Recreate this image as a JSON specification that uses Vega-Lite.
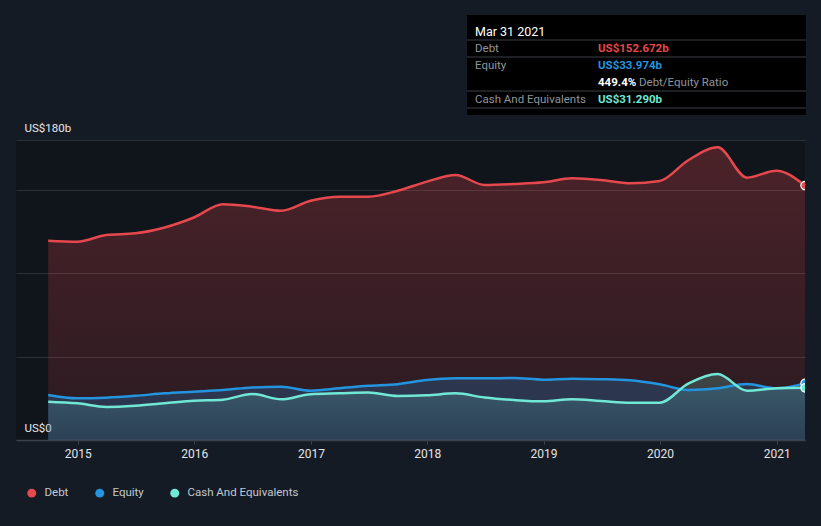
{
  "$schema": "https://vega.github.io/schema/vega-lite/v6.json",
  "background": "#151b24",
  "padding": {"left": 16, "top": 15, "right": 16, "bottom": 30},
  "config": {
    "font": "Roboto",
    "view": {"stroke": null}
  },
  "spacing": 7,
  "resolve": {"scale": {"color": "independent"}, "legend": {"color": "independent"}},
  "vconcat": [
    {
      "spacing": 0,
      "hconcat": [
        {
          "width": 450,
          "height": 100,
          "data": {"values": [{}]},
          "mark": {"type": "text", "text": ""},
          "encoding": {}
        },
        {
          "width": 339,
          "height": 100,
          "view": {"fill": "#000000", "stroke": null},
          "data": {"values": [
            {"row": "header", "col": "label", "text": "Mar 31 2021", "kind": "header"},
            {"row": "Debt", "col": "label", "text": "Debt", "kind": "label"},
            {"row": "Debt", "col": "value", "text": "US$152.672b", "kind": "debt"},
            {"row": "Equity", "col": "label", "text": "Equity", "kind": "label"},
            {"row": "Equity", "col": "value", "text": "US$33.974b", "kind": "equity"},
            {"row": "ratio", "col": "value", "text": "449.4%", "kind": "ratio"},
            {"row": "ratio", "col": "extra", "text": "Debt/Equity Ratio", "kind": "label"},
            {"row": "Cash", "col": "label", "text": "Cash And Equivalents", "kind": "label"},
            {"row": "Cash", "col": "value", "text": "US$31.290b", "kind": "cash"}
          ]},
          "layer": [
            {
              "data": {"values": [{"row": "header"}, {"row": "Debt"}, {"row": "ratio"}, {"row": "Cash"}]},
              "mark": {"type": "rule", "color": "#3a3e45", "strokeWidth": 1},
              "encoding": {
                "y": {"field": "row", "type": "nominal", "bandPosition": 1, "axis": null,
                  "scale": {"domain": ["header", "Debt", "Equity", "ratio", "Cash"], "range": [8, 93], "paddingInner": 0, "paddingOuter": 0}}
              }
            },
            {
              "transform": [{"filter": "datum.kind == 'header'"}],
              "mark": {"type": "text", "align": "left", "baseline": "middle", "fontSize": 12.5, "color": "#ffffff"},
              "encoding": {
                "x": {"field": "col", "type": "nominal", "axis": null, "scale": {"type": "point", "domain": ["label", "p1", "p2", "value", "extra"], "range": [8, 172], "padding": 0}},
                "y": {"field": "row", "type": "nominal", "axis": null},
                "text": {"field": "text"}
              }
            },
            {
              "transform": [{"filter": "datum.kind == 'label'"}],
              "mark": {"type": "text", "align": "left", "baseline": "middle", "fontSize": 11.5, "color": "#8f949b"},
              "encoding": {
                "x": {"field": "col", "type": "nominal", "axis": null},
                "y": {"field": "row", "type": "nominal", "axis": null},
                "text": {"field": "text"}
              }
            },
            {
              "transform": [{"filter": "datum.kind != 'label' && datum.kind != 'header'"}],
              "mark": {"type": "text", "align": "left", "baseline": "middle", "fontSize": 11.5, "fontWeight": "bold"},
              "encoding": {
                "x": {"field": "col", "type": "nominal", "axis": null},
                "y": {"field": "row", "type": "nominal", "axis": null},
                "text": {"field": "text"},
                "color": {"field": "kind", "type": "nominal", "legend": null,
                  "scale": {"domain": ["debt", "equity", "ratio", "cash"], "range": ["#e5484d", "#2394df", "#ffffff", "#71e7d6"]}}
              }
            }
          ]
        }
      ]
    },
    {
      "width": 789,
      "height": 300,
      "view": {"fill": "#10141b", "stroke": null},
      "data": {"values": [
        {"date": "2014-09-30", "Debt": 119.6, "Equity": 27.0, "Cash And Equivalents": 23.0},
        {"date": "2014-12-31", "Debt": 119.0, "Equity": 25.0, "Cash And Equivalents": 22.0},
        {"date": "2015-03-31", "Debt": 123.0, "Equity": 25.4, "Cash And Equivalents": 19.8},
        {"date": "2015-06-30", "Debt": 124.0, "Equity": 26.5, "Cash And Equivalents": 20.5},
        {"date": "2015-09-30", "Debt": 127.5, "Equity": 28.0, "Cash And Equivalents": 22.0},
        {"date": "2015-12-31", "Debt": 133.5, "Equity": 29.0, "Cash And Equivalents": 23.6},
        {"date": "2016-03-31", "Debt": 141.5, "Equity": 30.0, "Cash And Equivalents": 24.2},
        {"date": "2016-06-30", "Debt": 140.0, "Equity": 31.5, "Cash And Equivalents": 27.6},
        {"date": "2016-09-30", "Debt": 137.5, "Equity": 32.0, "Cash And Equivalents": 24.4},
        {"date": "2016-12-31", "Debt": 143.5, "Equity": 29.6, "Cash And Equivalents": 27.5},
        {"date": "2017-03-31", "Debt": 146.0, "Equity": 31.0, "Cash And Equivalents": 28.0},
        {"date": "2017-06-30", "Debt": 146.0, "Equity": 32.5, "Cash And Equivalents": 28.5},
        {"date": "2017-09-30", "Debt": 149.5, "Equity": 33.5, "Cash And Equivalents": 26.4},
        {"date": "2017-12-31", "Debt": 155.0, "Equity": 36.0, "Cash And Equivalents": 26.8},
        {"date": "2018-03-31", "Debt": 159.0, "Equity": 37.0, "Cash And Equivalents": 28.0},
        {"date": "2018-06-30", "Debt": 153.0, "Equity": 37.0, "Cash And Equivalents": 25.5},
        {"date": "2018-09-30", "Debt": 153.6, "Equity": 37.2, "Cash And Equivalents": 24.0},
        {"date": "2018-12-31", "Debt": 154.6, "Equity": 36.2, "Cash And Equivalents": 23.2},
        {"date": "2019-03-31", "Debt": 157.0, "Equity": 36.8, "Cash And Equivalents": 24.4},
        {"date": "2019-06-30", "Debt": 156.0, "Equity": 36.5, "Cash And Equivalents": 23.4},
        {"date": "2019-09-30", "Debt": 154.0, "Equity": 35.8, "Cash And Equivalents": 22.4},
        {"date": "2019-12-31", "Debt": 155.4, "Equity": 33.4, "Cash And Equivalents": 22.4},
        {"date": "2020-03-31", "Debt": 168.0, "Equity": 30.0, "Cash And Equivalents": 34.0},
        {"date": "2020-06-30", "Debt": 175.6, "Equity": 31.0, "Cash And Equivalents": 39.6},
        {"date": "2020-09-30", "Debt": 157.4, "Equity": 33.6, "Cash And Equivalents": 29.6},
        {"date": "2020-12-31", "Debt": 161.6, "Equity": 31.0, "Cash And Equivalents": 31.0},
        {"date": "2021-03-31", "Debt": 152.672, "Equity": 33.974, "Cash And Equivalents": 31.29}
      ]},
      "encoding": {
        "x": {
          "field": "date", "type": "temporal",
          "scale": {"type": "utc", "domain": [{"year": 2014, "month": 6, "date": 21, "utc": true}, {"year": 2021, "month": 3, "date": 31, "utc": true}]},
          "axis": {
            "title": null, "format": "%Y", "tickCount": {"interval": "year", "step": 1},
            "grid": false, "domainColor": "#3d424a", "domainWidth": 1.5,
            "tickColor": "#3d424a", "tickSize": 4, "labelColor": "#e2e4e8",
            "labelFontSize": 12, "labelPadding": 4, "labelFlush": false, "labelOverlap": false
          }
        }
      },
      "layer": [
        {
          "mark": {"type": "area", "interpolate": "monotone",
            "fill": {"gradient": "linear", "x1": 0, "y1": 0, "x2": 0, "y2": 1,
              "stops": [{"offset": 0, "color": "rgba(229,72,77,0.28)"}, {"offset": 1, "color": "rgba(229,72,77,0.12)"}]}},
          "encoding": {
            "y": {"field": "Debt", "type": "quantitative",
              "scale": {"domain": [0, 180], "nice": false},
              "axis": {
                "title": null, "values": [0, 50, 100, 150, 180], "grid": true,
                "gridColor": "#ffffff", "gridOpacity": 0.12, "domain": false, "ticks": false,
                "labelExpr": "datum.value == 180 ? 'US$180b' : datum.value == 0 ? 'US$0' : ''",
                "labelAlign": "left", "labelBaseline": "bottom", "labelPadding": -8, "labelOffset": -7,
                "labelColor": "#e6e8eb", "labelFontSize": 11.5, "minExtent": 0,
                "labelFlush": false, "labelOverlap": false
              }
            }
          }
        },
        {
          "mark": {"type": "area", "interpolate": "monotone", "fill": "rgba(35,148,223,0.23)"},
          "encoding": {"y": {"field": "Equity", "type": "quantitative", "axis": {"title": null}}}
        },
        {
          "mark": {"type": "area", "interpolate": "monotone",
            "fill": {"gradient": "linear", "x1": 0, "y1": 0, "x2": 0, "y2": 1,
              "stops": [{"offset": 0, "color": "rgba(113,231,214,0.22)"}, {"offset": 1, "color": "rgba(113,231,214,0.06)"}]}},
          "encoding": {"y": {"field": "Cash And Equivalents", "type": "quantitative", "axis": {"title": null}}}
        },
        {
          "transform": [{"fold": ["Debt", "Equity", "Cash And Equivalents"], "as": ["series", "value"]}],
          "mark": {"type": "line", "interpolate": "monotone", "strokeWidth": 2.5},
          "encoding": {
            "y": {"field": "value", "type": "quantitative", "axis": {"title": null}},
            "color": {"field": "series", "type": "nominal",
              "scale": {"domain": ["Debt", "Equity", "Cash And Equivalents"], "range": ["#e5484d", "#2394df", "#71e7d6"]},
              "legend": {
                "title": null, "orient": "none", "legendX": 10, "legendY": 347,
                "direction": "horizontal", "symbolType": "circle", "symbolSize": 80,
                "symbolStrokeWidth": 0, "labelColor": "#c4c8cf", "labelFontSize": 11.5,
                "columnPadding": 25, "labelOffset": 7
              }
            },
            "order": {"value": 0}
          }
        },
        {
          "transform": [
            {"fold": ["Debt", "Equity", "Cash And Equivalents"], "as": ["series", "value"]},
            {"filter": "year(datum.date) == 2021"}
          ],
          "mark": {"type": "point", "filled": true, "size": 70, "stroke": "#ffffff", "strokeWidth": 1.2, "opacity": 1, "clip": true},
          "encoding": {
            "y": {"field": "value", "type": "quantitative", "axis": {"title": null}},
            "color": {"field": "series", "type": "nominal"}
          }
        }
      ]
    }
  ]
}
